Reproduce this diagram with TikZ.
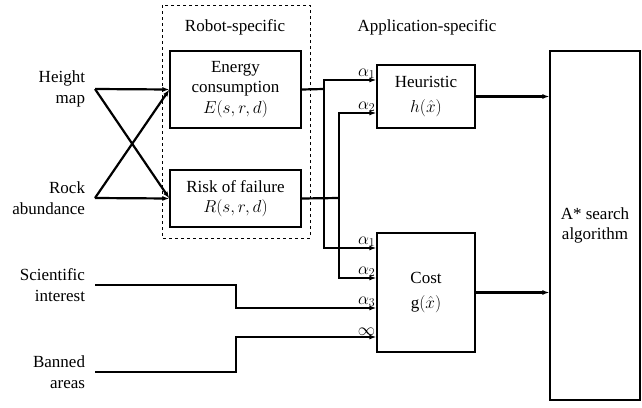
\documentclass[tikz,border=0pt]{standalone}
\usepackage{fontspec}
\setmainfont{Liberation Serif}
\usetikzlibrary{arrows.meta}

\tikzset{
  block/.style={draw, line width=1.2pt, align=center, inner sep=2pt},
  wire/.style={line width=2.2pt},
  inlabel/.style={align=right, inner xsep=5pt, outer xsep=5pt, inner ysep=0pt},
  wlabel/.style={inner sep=1pt},
  >={Latex[length=7pt,width=5pt]}
}

\begin{document}
\begin{tikzpicture}[x=1pt, y=-1pt, font=\fontsize{17}{20.5}\selectfont]
  \useasboundingbox (0,0) rectangle (642,407);

  % Robot-specific group
  \draw[dashed, line width=0.9pt] (162,5) rectangle (310,238);
  \node (robotlbl) at (235,27) {Robot-specific};
  \node (applbl) at (427,27) {Application-specific};

  % Boxes
  \node[block, minimum width=131pt, minimum height=77pt] (energy) at (235.5,89.5)
       {Energy\\consumption\\$E(s,r,d)$};
  \node[block, minimum width=131pt, minimum height=57pt] (risk) at (235.5,198.5)
       {Risk of failure\\$R(s,r,d)$};
  \node[block, minimum width=98pt, minimum height=63pt] (heur) at (426,96.5)
       {Heuristic\\[5pt]$h(\hat{x})$};
  \node[block, minimum width=98pt, minimum height=119pt] (cost) at (426,292.5)
       {Cost\\[5pt]g$(\hat{x})$};
  \node[block, minimum width=90pt, minimum height=349pt] (astar) at (595,225.5)
       {A* search\\algorithm};

  % Inputs
  \node[inlabel, anchor=east] (hmap) at (95,89) {Height\\map};
  \node[inlabel, anchor=east] (rock) at (95,198) {Rock\\abundance};
  \node[inlabel, anchor=east] (sci) at (95,285) {Scientific\\interest};
  \node[inlabel, anchor=east] (ban) at (95,372) {Banned\\areas};

  % Ports and junctions
  \coordinate (h1) at (heur.west |- 0,80);
  \coordinate (h2) at (heur.west |- 0,113);
  \coordinate (c1) at (cost.west |- 0,248);
  \coordinate (c2) at (cost.west |- 0,278);
  \coordinate (c3) at (cost.west |- 0,308);
  \coordinate (c4) at (cost.west |- 0,337);
  \coordinate (j1) at (324,89);
  \coordinate (j2) at (339,198);

  % Crossed inputs
  \draw[wire,->] (hmap.east) -- (energy.west);
  \draw[wire,->] (hmap.east) -- (risk.west);
  \draw[wire,->] (rock.east) -- (energy.west);
  \draw[wire,->] (rock.east) -- (risk.west);

  % Weighted terms
  \draw[wire] (energy.east) -- (j1);
  \draw[wire,->] (j1) |- (h1);
  \draw[wire,->] (j1) |- (c1);
  \draw[wire] (risk.east) -- (j2);
  \draw[wire,->] (j2) |- (h2);
  \draw[wire,->] (j2) |- (c2);
  \draw[wire,->] (sci.east) -- ++(141,0) |- (c3);
  \draw[wire,->] (ban.east) -- ++(141,0) |- (c4);

  \node[wlabel, anchor=south east] (a1h) at (h1) {$\alpha_1$};
  \node[wlabel, anchor=south east] (a2h) at (h2) {$\alpha_2$};
  \node[wlabel, anchor=south east] (a1c) at (c1) {$\alpha_1$};
  \node[wlabel, anchor=south east] (a2c) at (c2) {$\alpha_2$};
  \node[wlabel, anchor=south east] (a3c) at (c3) {$\alpha_3$};
  \node[wlabel, anchor=south east] (infc) at (c4) {$\infty$};

  % Outputs
  \draw[wire,->] (heur.east) -- (heur.east -| astar.west);
  \draw[wire,->] (cost.east) -- (cost.east -| astar.west);
\end{tikzpicture}
\end{document}
